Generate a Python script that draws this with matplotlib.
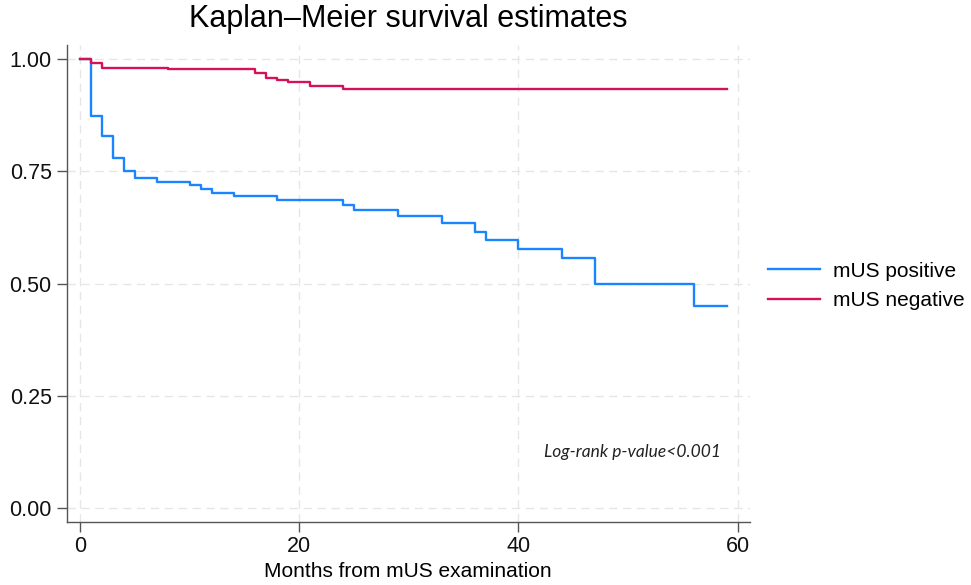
import matplotlib
matplotlib.use("Agg")
import matplotlib.pyplot as plt

# Kaplan-Meier step data (months, survival)
pos_t = [0, 1, 2, 3, 4, 5, 7, 10, 11, 12, 14, 18, 24, 25, 29, 33, 36, 37, 40, 44, 47, 56, 59]
pos_s = [1.0, 0.873, 0.829, 0.780, 0.750, 0.736, 0.727, 0.719, 0.711, 0.702, 0.695, 0.686,
         0.676, 0.664, 0.650, 0.634, 0.616, 0.597, 0.578, 0.556, 0.500, 0.451, 0.451]

neg_t = [0, 1, 2, 8, 16, 17, 18, 19, 21, 24, 59]
neg_s = [1.0, 0.990, 0.981, 0.977, 0.968, 0.958, 0.953, 0.949, 0.939, 0.933, 0.933]

labels = ["mUS positive", "mUS negative"]
xticks = [0, 20, 40, 60]
yticks = [0, 0.25, 0.5, 0.75, 1.0]

plt.rcParams['font.family'] = ['Liberation Sans', 'DejaVu Sans']

fig = plt.figure(figsize=(9.71, 5.85), dpi=100)
ax = fig.add_axes([0.069, 0.108, 0.703, 0.815])

ax.step(pos_t, pos_s, where='post', color='#1a85ff', lw=1.7, label=labels[0])
ax.step(neg_t, neg_s, where='post', color='#d41159', lw=1.7, label=labels[1])

ax.set_xlim(-1.2, 61.1)
ax.set_ylim(-0.03, 1.031)
ax.set_xticks(xticks)
ax.set_yticks(yticks)
ax.set_yticklabels(["%.2f" % v for v in yticks])
ax.grid(True, color='#e6e6e6', ls=(0, (6, 4)), lw=1.0)
ax.set_axisbelow(True)

for s in ['top', 'right']:
    ax.spines[s].set_visible(False)
for s in ['left', 'bottom']:
    ax.spines[s].set_color('#555555')
    ax.spines[s].set_linewidth(1.0)
ax.tick_params(length=7, width=1.0, color='#555555', labelsize=15.5, labelcolor='#111111')
ax.tick_params(axis='y', pad=4)
ax.tick_params(axis='x', pad=3)

ax.set_xlabel("Months from mUS examination", fontsize=15, labelpad=4)
ax.set_title("Kaplan–Meier survival estimates", fontsize=22, pad=13)

ax.text(58.5, 0.125, "Log-rank p-value<0.001", fontsize=12.5, style='italic',
        family=['Lato', 'DejaVu Sans'], ha='right', va='center', color='#222222')

ax.legend(loc='center left', bbox_to_anchor=(1.0, 0.495), frameon=False, fontsize=15,
          handlelength=2.5, handletextpad=0.6, labelspacing=0.5)

fig.savefig("out.png", dpi=100)
